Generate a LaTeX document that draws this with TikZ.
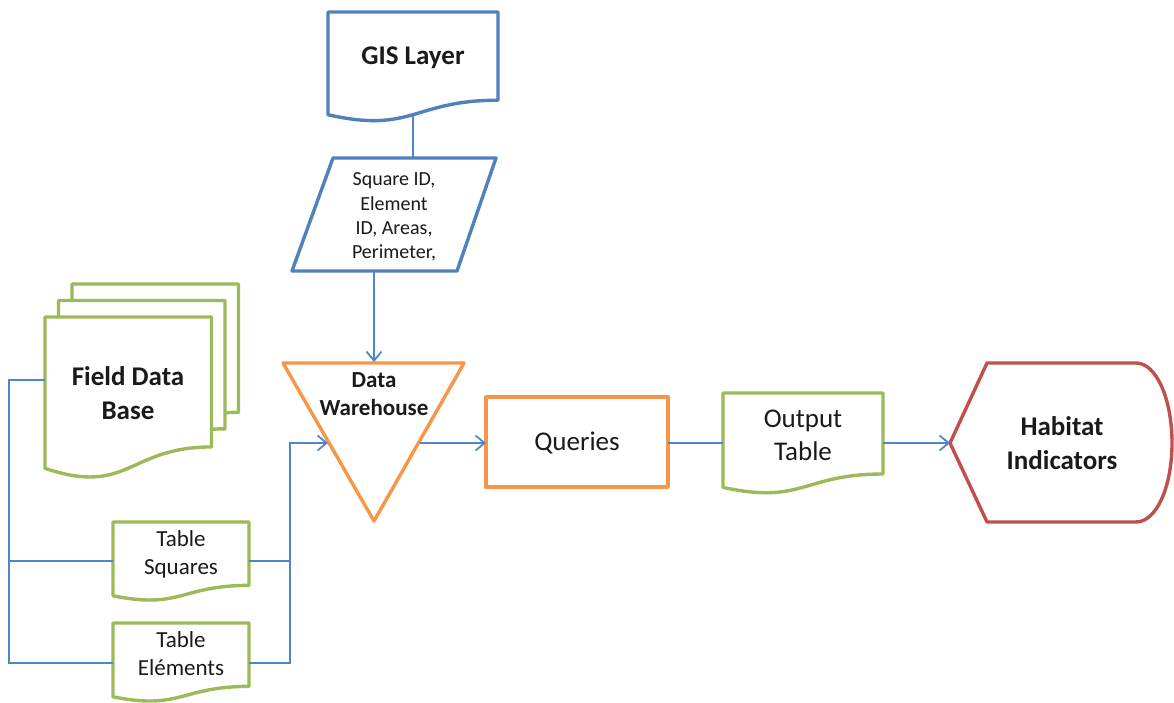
\documentclass[tikz,border=0pt]{standalone}
\usepackage{fontspec}
\setmainfont{Carlito}
\usetikzlibrary{arrows.meta}
\definecolor{bluec}{HTML}{4F81BD}
\definecolor{linec}{HTML}{4F86C6}
\definecolor{greenc}{HTML}{9BBB59}
\definecolor{orangec}{HTML}{F79646}
\definecolor{redc}{HTML}{C0504D}
\definecolor{textc}{HTML}{1A1A1A}
% document (wavy-bottom) shape: style, x, y, width, height
\newcommand\docshape[5]{%
  \draw[#1] (#2,#3) -- ({#2+#4},#3) -- ({#2+#4},{#3+0.802*#5})
    .. controls ({#2+0.5*#4},{#3+0.802*#5}) and ({#2+0.5*#4},{#3+1.108*#5})
    .. (#2,{#3+0.934*#5}) -- cycle;}
\tikzset{
  shp/.style={line width=3.4pt, line join=round, fill=white},
  conn/.style={draw=linec, line width=1.8pt},
  arr/.style={conn, -{Straight Barb[length=9pt,width=15pt]}},
  lbl/.style={align=center, text=textc, inner sep=0pt},
  big/.style={lbl, font=\fontsize{27}{33}\selectfont},
  bigb/.style={lbl, font=\fontsize{27}{34}\selectfont\bfseries},
  mid/.style={lbl, font=\fontsize{23}{28}\selectfont},
  small/.style={lbl, font=\fontsize{20}{24.3}\selectfont},
}
\begin{document}
\begin{tikzpicture}[x=1pt,y=-1pt]
\useasboundingbox (0,0) rectangle (1174,702);
\fill[white] (0,0) rectangle (1174,702);

% GIS layer document
\docshape{shp,draw=bluec}{328}{12}{170}{110}
\node[bigb] (gis) at (413,58) {GIS Layer};

% attribute parallelogram
\draw[shp,draw=bluec] (333,158) -- (496,158) -- (457,271) -- (292,271) -- cycle;
\node[small] (attr) at (394,217) {Square ID,\\Element\\ID, Areas,\\Perimeter,};

% stacked field data base documents
\docshape{shp,draw=greenc}{72}{284}{166.5}{160}
\docshape{shp,draw=greenc}{58.5}{300.5}{166.5}{160}
\docshape{shp,draw=greenc}{45}{317}{166.5}{162}
\node[bigb] (fdb) at (128,393) {Field Data\\Base};

% tables
\docshape{shp,draw=greenc}{113}{522}{136}{79}
\node[mid] (tsq) at (181,554) {Table\\Squares};
\docshape{shp,draw=greenc}{113}{623}{136}{79}
\node[mid] (tel) at (181,654) {Table\\Eléments};

% data warehouse triangle
\draw[shp,draw=orangec] (283,363) -- (464,363) -- (374,521) -- cycle;
\node[lbl, font=\fontsize{23}{28}\selectfont\bfseries] (dw) at (374,394) {Data\\Warehouse};

% queries box
\draw[shp,draw=orangec] (486,397) rectangle (668,487);
\node[big] (qry) at (577,443) {Queries};

% output table document
\docshape{shp,draw=greenc}{723}{393}{160}{101}
\node[big] (out) at (803,435) {Output\\Table};

% habitat indicators display shape
\draw[shp,draw=redc] (950,443) -- (987,363) -- (1136,363)
  .. controls (1156.4,363) and (1172,399.1) .. (1172,443)
  .. controls (1172,486.9) and (1156.4,522) .. (1136,522)
  -- (987,522) -- cycle;
\node[bigb] (hab) at (1062,443) {Habitat\\Indicators};

% connector end points
\coordinate (gisB) at (413,115);
\coordinate (attrT) at (413,158);
\coordinate (attrB) at (374,271);
\coordinate (dwT) at (374,362);
\coordinate (dwL) at (328,443);
\coordinate (dwR) at (420,443);
\coordinate (fdbL) at (45,380);
\coordinate (tsqL) at (113,561);
\coordinate (tsqR) at (249,561);
\coordinate (telL) at (113,663);
\coordinate (telR) at (249,663);
\coordinate (qryL) at (486,443);
\coordinate (qryR) at (668,443);
\coordinate (outL) at (723,443);
\coordinate (outR) at (883,443);
\coordinate (habL) at (950,443);
\coordinate (busL) at (9,561);
\coordinate (busR) at (290,561);

% connectors
\draw[conn] (gisB) -- (attrT);
\draw[arr] (attrB) -- (dwT);
\draw[conn] (fdbL) -- (9,380) |- (telL);
\draw[conn] (busL) -- (tsqL);
\draw[conn] (tsqR) -- (busR);
\draw[arr] (telR) -- (290,663) |- (dwL);
\draw[arr] (dwR) -- (qryL);
\draw[conn] (qryR) -- (outL);
\draw[arr] (outR) -- (habL);
\end{tikzpicture}
\end{document}
